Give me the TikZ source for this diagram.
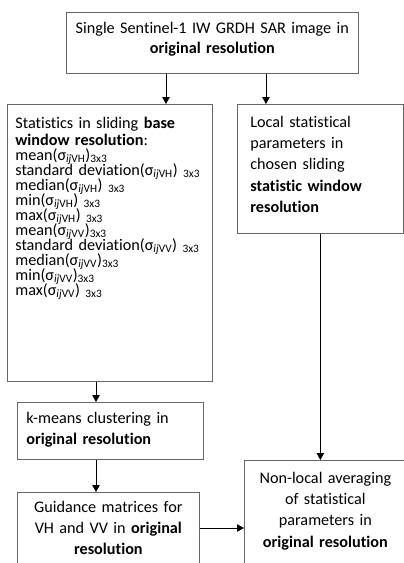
\documentclass[tikz,border=0pt]{standalone}
\usepackage{fontspec}
\setmainfont{Carlito}[Ligatures={NoCommon}]
\usetikzlibrary{arrows.meta,positioning}
\tikzset{
	box/.style={draw=black!60,line width=0.7pt,rectangle,align=center,inner ysep=0pt,font=\fontsize{16.2}{21.3}\selectfont},
	lbox/.style={box,align=left},
	flow/.style={-{Triangle[length=7pt,width=7.5pt]},line width=0.8pt}
}
\newcommand{\sgm}[1]{σ\textsubscript{\textit{ij}#1}}
\newcommand{\wnd}{\textsubscript{3x3}}
\DeclareRobustCommand{\listfont}{\fontsize{16.2}{15}\selectfont\lineskiplimit=-20pt\relax\lineskip=0pt\relax}

\begin{document}
\begin{tikzpicture}[x=1pt,y=-1pt]
	\useasboundingbox (0,0) rectangle (404,563);
	\node[box,anchor=north west,inner xsep=2pt,text width=288pt,text height=21pt,text depth=40pt] (img) at (66,12)
		{Single Sentinel-1 IW GRDH SAR image in\\[-1pt] \textbf{original resolution}};
	\node[lbox,anchor=north west,inner xsep=8pt,text width=189pt,text height=24pt,text depth=253pt,font=\listfont] (stats) at (7,104)
		{Statistics in sliding \textbf{base}\\[2pt]
		\textbf{window resolution}:\\
		mean(\sgm{VH})\wnd\\
		standard deviation(\sgm{VH}) \wnd\\
		median(\sgm{VH}) \wnd\\
		min(\sgm{VH}) \wnd\\
		max(\sgm{VH}) \wnd\\
		mean(\sgm{VV})\wnd\\
		standard deviation(\sgm{VV}) \wnd\\
		median(\sgm{VV})\wnd\\
		min(\sgm{VV})\wnd\\
		max(\sgm{VV}) \wnd};
	\node[lbox,anchor=north west,inner xsep=13pt,text width=140pt,text height=23pt,text depth=106pt] (local) at (237,104)
		{Local statistical\\ parameters in\\ chosen sliding\\ \textbf{statistic window}\\ \textbf{resolution}};
	\node[lbox,anchor=north west,inner xsep=9pt,text width=168pt,text height=21pt,text depth=36pt] (kmeans) at (17,402)
		{k-means clustering in\\ \textbf{original resolution}};
	\node[box,anchor=north west,inner xsep=6pt,text width=170pt,text height=20pt,text depth=68pt] (guide) at (17,492)
		{Guidance matrices for\\ VH and VV in \textbf{original}\\ \textbf{resolution}};
	\node[box,anchor=north west,inner xsep=6pt,text width=150pt,text height=23pt,text depth=97pt] (nonlocal) at (244,460)
		{Non-local averaging\\ of statistical\\ parameters in\\ \textbf{original resolution}};

	\draw[flow] ([xshift=100pt]img.south west) -- ([xshift=100pt]img.south west |- stats.north);
	\draw[flow] ([xshift=200pt]img.south west) -- ([xshift=200pt]img.south west |- local.north);
	\draw[flow] ([xshift=89pt]stats.south west) -- ([xshift=89pt]stats.south west |- kmeans.north);
	\draw[flow] ([xshift=79pt]kmeans.south west) -- ([xshift=79pt]kmeans.south west |- guide.north);
	\draw[flow] (local.south) -- (local.south |- nonlocal.north);
	\draw[flow] ([yshift=-36pt]guide.north east) -- ([yshift=-36pt]guide.north east -| nonlocal.west);
\end{tikzpicture}
\end{document}
